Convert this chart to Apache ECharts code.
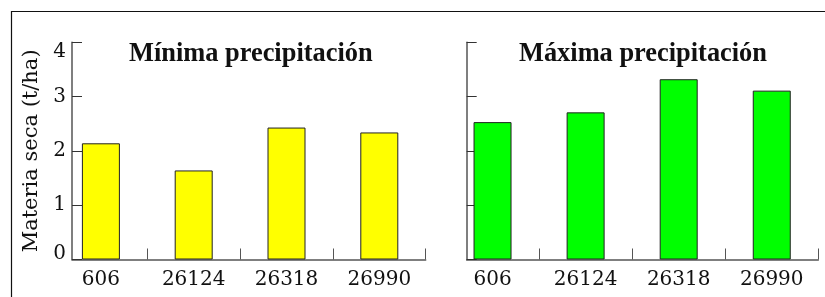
<!DOCTYPE html>
<html>
<head>
<meta charset="utf-8">
<script src="https://cdn.jsdelivr.net/npm/echarts@6/dist/echarts.min.js"></script>
<style>
html,body{margin:0;padding:0;background:#fff;}
#chart{width:825px;height:297px;}
</style>
</head>
<body>
<div id="chart"></div>
<script>
const categories = ['606', '26124', '26318', '26990'];
const minValues = [2.14, 1.64, 2.43, 2.34];
const maxValues = [2.53, 2.71, 3.32, 3.11];
const yTicks = [0, 1, 2, 3, 4];
const titles = ['Mínima precipitación', 'Máxima precipitación'];
const yName = 'Materia seca (t/ha)';

(function () {
const serif = 'DejaVu Serif';
const axisColor = '#555';
const yMin = yTicks[0], yMax = yTicks[yTicks.length - 1];

const chart = echarts.init(document.getElementById('chart'), null, {renderer: 'canvas'});

const gTop = 42.3, gBottom = 297 - 259.5;
const titleStyle = {fontFamily: 'Liberation Serif', fontWeight: 'bold', fontSize: 26.4, color: '#111'};
const labelFont = {fontFamily: serif, fontSize: 20, color: '#111'};
const option = {
  animation: false,
  backgroundColor: '#fff',
  title: [
    {text: titles[0], left: 129, top: 41, padding: 0, textStyle: titleStyle},
    {text: titles[1], left: 519, top: 41, padding: 0, textStyle: titleStyle}
  ],
  graphic: [{
    type: 'polyline', silent: true,
    shape: {points: [[11.5, 297], [11.5, 11.5], [825, 11.5]]},
    style: {stroke: '#111', lineWidth: 1.2, fill: null}
  }],
  grid: [
    {left: 54.5, width: 371.2, top: gTop, bottom: gBottom},
    {left: 446, width: 372.3, top: gTop, bottom: gBottom},
    {left: 72, width: 353.7, top: gTop, bottom: gBottom},
    {left: 466.7, width: 351.6, top: gTop, bottom: gBottom}
  ],
  xAxis: [0, 1].map(i => ({
    type: 'category', gridIndex: i, data: categories,
    axisLine: {show: false},
    axisTick: {show: true, inside: true, length: 11, interval: (idx) => idx > 0, lineStyle: {color: axisColor, width: 1}},
    axisLabel: Object.assign({interval: 0, margin: 10}, labelFont)
  })).concat([2, 3].map(i => ({
    type: 'value', gridIndex: i, min: 0, max: 1,
    axisLine: {show: true, lineStyle: {color: axisColor, width: 1.5}},
    axisTick: {show: false}, axisLabel: {show: false}, splitLine: {show: false}
  }))),
  yAxis: [0, 1].map(i => ({
    type: 'value', gridIndex: i, min: yMin, max: yMax, interval: 1,
    show: false
  })).concat([2, 3].map((g, k) => ({
    type: 'value', gridIndex: g, min: yMin, max: yMax, interval: 1,
    name: k === 0 ? yName : '',
    nameLocation: 'middle', nameGap: 30,
    nameTextStyle: {fontFamily: serif, fontSize: 21, color: '#111'},
    axisLine: {show: true, lineStyle: {color: axisColor, width: 1.5}},
    axisTick: {show: true, inside: true, length: 10, lineStyle: {color: '#333', width: 1}},
    axisLabel: Object.assign({show: k === 0, margin: 6,
      verticalAlignMinLabel: 'bottom', verticalAlignMaxLabel: 'top',
      formatter: v => v === yMin ? '{lo|' + v + '}' : (v === yMax ? '{hi|' + v + '}' : String(v)),
      rich: {
        lo: Object.assign({lineHeight: 11}, labelFont),
        hi: Object.assign({lineHeight: 18}, labelFont)
      }
    }, labelFont),
    splitLine: {show: false}
  }))),
  series: [
    {type: 'bar', xAxisIndex: 0, yAxisIndex: 0, data: minValues, barWidth: 38,
     itemStyle: {color: '#ffff00', borderColor: '#222', borderWidth: 1}},
    {type: 'bar', xAxisIndex: 1, yAxisIndex: 1, data: maxValues, barWidth: 38,
     itemStyle: {color: '#00ff00', borderColor: '#222', borderWidth: 1}}
  ]
};
chart.setOption(option);
})();
</script>
</body>
</html>
